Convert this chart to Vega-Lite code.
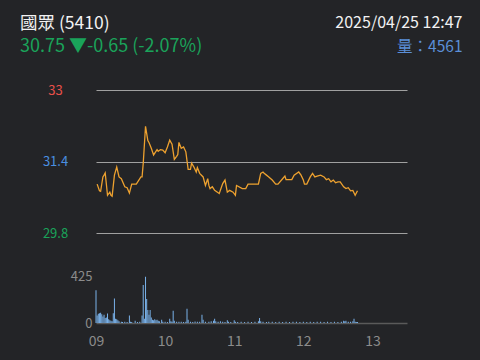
{
  "$schema": "https://vega.github.io/schema/vega-lite/v6.json",
  "width": 311,
  "height": 233,
  "autosize": {"type": "none"},
  "padding": {"left": 96, "top": 90, "right": 73, "bottom": 37},
  "background": "#232427",
  "config": {"view": {"stroke": null}, "font": "Noto Sans CJK TC"},
  "title": {
    "text": "國眾 (5410)",
    "subtitle": "30.75 ▼-0.65 (-2.07%)",
    "anchor": "start",
    "frame": "group",
    "dx": -76,
    "dy": 42,
    "offset": 0,
    "color": "#f2f2f2",
    "subtitleColor": "#1aa35a",
    "fontSize": 17.5,
    "fontWeight": "normal",
    "subtitleFontSize": 18,
    "subtitlePadding": 6
  },
  "datasets": {
    "price": [
      {"t": "09:01", "p": 30.90}, {"t": "09:03", "p": 30.75}, {"t": "09:04", "p": 30.74},
      {"t": "09:06", "p": 31.06}, {"t": "09:07", "p": 31.10}, {"t": "09:08", "p": 31.15},
      {"t": "09:10", "p": 30.65}, {"t": "09:12", "p": 30.72}, {"t": "09:13", "p": 30.65},
      {"t": "09:14", "p": 30.63}, {"t": "09:16", "p": 31.10}, {"t": "09:18", "p": 31.28},
      {"t": "09:20", "p": 31.06}, {"t": "09:22", "p": 31.02}, {"t": "09:25", "p": 30.84},
      {"t": "09:27", "p": 30.82}, {"t": "09:29", "p": 30.70}, {"t": "09:31", "p": 30.90},
      {"t": "09:35", "p": 30.90}, {"t": "09:39", "p": 31.06}, {"t": "09:40", "p": 31.06},
      {"t": "09:41", "p": 31.36}, {"t": "09:43", "p": 32.19}, {"t": "09:45", "p": 31.87},
      {"t": "09:46", "p": 31.83}, {"t": "09:48", "p": 31.70}, {"t": "09:50", "p": 31.55},
      {"t": "09:53", "p": 31.67}, {"t": "09:54", "p": 31.63}, {"t": "09:56", "p": 31.67},
      {"t": "09:58", "p": 31.66}, {"t": "10:00", "p": 31.60}, {"t": "10:02", "p": 31.73},
      {"t": "10:04", "p": 31.88}, {"t": "10:06", "p": 31.79}, {"t": "10:08", "p": 31.45},
      {"t": "10:10", "p": 31.52}, {"t": "10:11", "p": 31.56}, {"t": "10:12", "p": 31.83},
      {"t": "10:14", "p": 31.70}, {"t": "10:16", "p": 31.73}, {"t": "10:18", "p": 31.62},
      {"t": "10:20", "p": 31.23}, {"t": "10:22", "p": 31.23}, {"t": "10:23", "p": 31.37},
      {"t": "10:25", "p": 31.28}, {"t": "10:27", "p": 31.17}, {"t": "10:28", "p": 31.27},
      {"t": "10:30", "p": 31.14}, {"t": "10:33", "p": 31.06}, {"t": "10:35", "p": 30.87},
      {"t": "10:37", "p": 31.02}, {"t": "10:38", "p": 30.87}, {"t": "10:39", "p": 30.80},
      {"t": "10:41", "p": 30.84}, {"t": "10:43", "p": 30.76}, {"t": "10:47", "p": 30.69},
      {"t": "10:50", "p": 30.91}, {"t": "10:52", "p": 30.99}, {"t": "10:54", "p": 30.72},
      {"t": "10:56", "p": 30.76}, {"t": "10:59", "p": 30.72}, {"t": "11:01", "p": 30.65},
      {"t": "11:02", "p": 30.87}, {"t": "11:07", "p": 30.80}, {"t": "11:10", "p": 30.80},
      {"t": "11:12", "p": 30.90}, {"t": "11:21", "p": 30.90}, {"t": "11:23", "p": 31.14},
      {"t": "11:25", "p": 31.17}, {"t": "11:26", "p": 31.14}, {"t": "11:28", "p": 31.10},
      {"t": "11:30", "p": 31.06}, {"t": "11:33", "p": 30.99}, {"t": "11:36", "p": 30.90},
      {"t": "11:38", "p": 30.90}, {"t": "11:42", "p": 31.02}, {"t": "11:44", "p": 31.08},
      {"t": "11:45", "p": 31.00}, {"t": "11:50", "p": 31.00}, {"t": "11:52", "p": 31.10},
      {"t": "11:56", "p": 31.17}, {"t": "11:58", "p": 31.10}, {"t": "12:00", "p": 30.99},
      {"t": "12:01", "p": 30.90}, {"t": "12:03", "p": 30.90}, {"t": "12:06", "p": 31.06},
      {"t": "12:08", "p": 31.14}, {"t": "12:10", "p": 31.06}, {"t": "12:12", "p": 31.08},
      {"t": "12:15", "p": 31.10}, {"t": "12:18", "p": 31.06}, {"t": "12:20", "p": 31.00},
      {"t": "12:22", "p": 31.02}, {"t": "12:24", "p": 30.95}, {"t": "12:26", "p": 30.99},
      {"t": "12:28", "p": 30.93}, {"t": "12:30", "p": 30.95}, {"t": "12:32", "p": 30.95},
      {"t": "12:35", "p": 30.84}, {"t": "12:37", "p": 30.80}, {"t": "12:39", "p": 30.82},
      {"t": "12:41", "p": 30.75}, {"t": "12:43", "p": 30.76}, {"t": "12:45", "p": 30.65},
      {"t": "12:47", "p": 30.75}
    ],
    "volume": [
      {"t": "09:00", "v": 300}, {"t": "09:01", "v": 70}, {"t": "09:02", "v": 85}, {"t": "09:03", "v": 90},
      {"t": "09:04", "v": 95}, {"t": "09:05", "v": 80}, {"t": "09:06", "v": 60}, {"t": "09:07", "v": 75},
      {"t": "09:08", "v": 45}, {"t": "09:09", "v": 50}, {"t": "09:10", "v": 88}, {"t": "09:11", "v": 35},
      {"t": "09:12", "v": 25}, {"t": "09:13", "v": 20}, {"t": "09:14", "v": 15}, {"t": "09:15", "v": 90},
      {"t": "09:16", "v": 225}, {"t": "09:17", "v": 40}, {"t": "09:18", "v": 35}, {"t": "09:19", "v": 25},
      {"t": "09:20", "v": 15}, {"t": "09:22", "v": 12}, {"t": "09:23", "v": 10}, {"t": "09:25", "v": 12},
      {"t": "09:27", "v": 10}, {"t": "09:29", "v": 70}, {"t": "09:30", "v": 12}, {"t": "09:31", "v": 10},
      {"t": "09:34", "v": 20}, {"t": "09:36", "v": 10}, {"t": "09:38", "v": 12}, {"t": "09:40", "v": 70},
      {"t": "09:41", "v": 350}, {"t": "09:42", "v": 40}, {"t": "09:43", "v": 425}, {"t": "09:44", "v": 220},
      {"t": "09:45", "v": 120}, {"t": "09:46", "v": 75}, {"t": "09:47", "v": 120}, {"t": "09:48", "v": 50},
      {"t": "09:49", "v": 30}, {"t": "09:50", "v": 25}, {"t": "09:51", "v": 35}, {"t": "09:52", "v": 25},
      {"t": "09:53", "v": 30}, {"t": "09:54", "v": 20}, {"t": "09:55", "v": 15}, {"t": "09:57", "v": 30},
      {"t": "09:58", "v": 12}, {"t": "10:00", "v": 12}, {"t": "10:02", "v": 10}, {"t": "10:04", "v": 40},
      {"t": "10:05", "v": 15}, {"t": "10:06", "v": 12}, {"t": "10:07", "v": 113}, {"t": "10:08", "v": 20},
      {"t": "10:10", "v": 12}, {"t": "10:12", "v": 12}, {"t": "10:14", "v": 12}, {"t": "10:16", "v": 10},
      {"t": "10:18", "v": 12}, {"t": "10:19", "v": 130}, {"t": "10:20", "v": 30}, {"t": "10:22", "v": 12},
      {"t": "10:24", "v": 10}, {"t": "10:26", "v": 14}, {"t": "10:28", "v": 12}, {"t": "10:30", "v": 12},
      {"t": "10:32", "v": 75}, {"t": "10:33", "v": 30}, {"t": "10:35", "v": 12}, {"t": "10:38", "v": 12},
      {"t": "10:40", "v": 15}, {"t": "10:42", "v": 20}, {"t": "10:43", "v": 40}, {"t": "10:44", "v": 15},
      {"t": "10:46", "v": 12}, {"t": "10:48", "v": 15}, {"t": "10:50", "v": 12}, {"t": "10:52", "v": 10},
      {"t": "10:54", "v": 25}, {"t": "10:55", "v": 12}, {"t": "10:57", "v": 10}, {"t": "11:00", "v": 25},
      {"t": "11:01", "v": 12}, {"t": "11:03", "v": 10}, {"t": "11:06", "v": 12}, {"t": "11:09", "v": 10},
      {"t": "11:12", "v": 12}, {"t": "11:15", "v": 10}, {"t": "11:18", "v": 12}, {"t": "11:21", "v": 15},
      {"t": "11:22", "v": 45}, {"t": "11:23", "v": 15}, {"t": "11:25", "v": 12}, {"t": "11:28", "v": 10},
      {"t": "11:30", "v": 12}, {"t": "11:33", "v": 12}, {"t": "11:36", "v": 10}, {"t": "11:39", "v": 12},
      {"t": "11:42", "v": 10}, {"t": "11:45", "v": 12}, {"t": "11:48", "v": 10}, {"t": "11:51", "v": 12},
      {"t": "11:54", "v": 12}, {"t": "11:57", "v": 10}, {"t": "12:00", "v": 12}, {"t": "12:03", "v": 10},
      {"t": "12:06", "v": 12}, {"t": "12:09", "v": 10}, {"t": "12:12", "v": 12}, {"t": "12:15", "v": 12},
      {"t": "12:18", "v": 10}, {"t": "12:21", "v": 12}, {"t": "12:24", "v": 10}, {"t": "12:27", "v": 12},
      {"t": "12:30", "v": 10}, {"t": "12:33", "v": 12}, {"t": "12:35", "v": 20}, {"t": "12:36", "v": 15},
      {"t": "12:37", "v": 20}, {"t": "12:39", "v": 12}, {"t": "12:41", "v": 12}, {"t": "12:43", "v": 15},
      {"t": "12:44", "v": 40}, {"t": "12:45", "v": 12}, {"t": "12:46", "v": 10}, {"t": "12:47", "v": 10}
    ]
  },
  "layer": [
    {
      "data": {"name": "volume", "format": {"parse": {"t": "date:'%H:%M'"}}},
      "mark": {"type": "bar", "width": 1, "color": "#7ab2ea"},
      "encoding": {
        "x": {
          "field": "t",
          "type": "temporal",
          "scale": {
            "padding": 0,
            "domain": [
              {"year": 1900, "month": 1, "date": 1, "hours": 9, "minutes": 0},
              {"year": 1900, "month": 1, "date": 1, "hours": 13, "minutes": 30}
            ]
          },
          "axis": {
            "values": [
              {"year": 1900, "month": 1, "date": 1, "hours": 9},
              {"year": 1900, "month": 1, "date": 1, "hours": 10},
              {"year": 1900, "month": 1, "date": 1, "hours": 11},
              {"year": 1900, "month": 1, "date": 1, "hours": 12},
              {"year": 1900, "month": 1, "date": 1, "hours": 13}
            ],
            "format": "%H",
            "labelColor": "#8c8c8c",
            "labelFontSize": 14,
            "labelPadding": 11,
            "labelFlush": false,
            "labelOverlap": false,
            "ticks": false,
            "tickSize": 0,
            "grid": false,
            "domain": true,
            "domainColor": "#5a5a5a",
            "domainWidth": 1.5,
            "title": "2025/04/25 12:47",
            "titleX": 366,
            "titleY": -301,
            "titleAlign": "right",
            "titleBaseline": "middle",
            "titleColor": "#f2f2f2",
            "titleFontSize": 16,
            "titleFontWeight": "normal"
          }
        },
        "y": {
          "field": "v",
          "type": "quantitative",
          "scale": {"domain": [0, 2140], "nice": false},
          "axis": {
            "orient": "left",
            "values": [0, 425],
            "grid": false,
            "domain": false,
            "ticks": false,
            "tickSize": 0,
            "labelPadding": 4,
            "labelFlush": false,
            "labelColor": "#8c8c8c",
            "labelFontSize": 13,
            "title": "量：4561",
            "titleAngle": 0,
            "titleX": 366,
            "titleY": -44,
            "titleAlign": "right",
            "titleBaseline": "middle",
            "titleColor": "#5b8fd8",
            "titleFontSize": 15.5,
            "titleFontWeight": "normal"
          }
        }
      }
    },
    {
      "data": {"name": "price", "format": {"parse": {"t": "date:'%H:%M'"}}},
      "mark": {"type": "line", "color": "#eda12f", "strokeWidth": 1.3},
      "encoding": {
        "x": {"field": "t", "type": "temporal"},
        "y": {
          "field": "p",
          "type": "quantitative",
          "scale": {"domain": [27.8, 33], "zero": false, "nice": false},
          "axis": {
            "orient": "left",
            "values": [29.8, 31.4, 33],
            "format": ".1~f",
            "grid": true,
            "gridColor": "#a0a0a0",
            "gridWidth": 1,
            "domain": false,
            "ticks": false,
            "tickSize": 0,
            "labelAlign": "center",
            "labelPadding": 41,
            "labelFlush": false,
            "labelFontSize": 13,
            "labelColor": {
              "condition": [
                {"test": "datum.value > 32.5", "value": "#e8504a"},
                {"test": "datum.value > 31", "value": "#4a8fe0"}
              ],
              "value": "#1aa35a"
            },
            "title": null
          }
        }
      }
    }
  ],
  "resolve": {"scale": {"y": "independent"}}
}
